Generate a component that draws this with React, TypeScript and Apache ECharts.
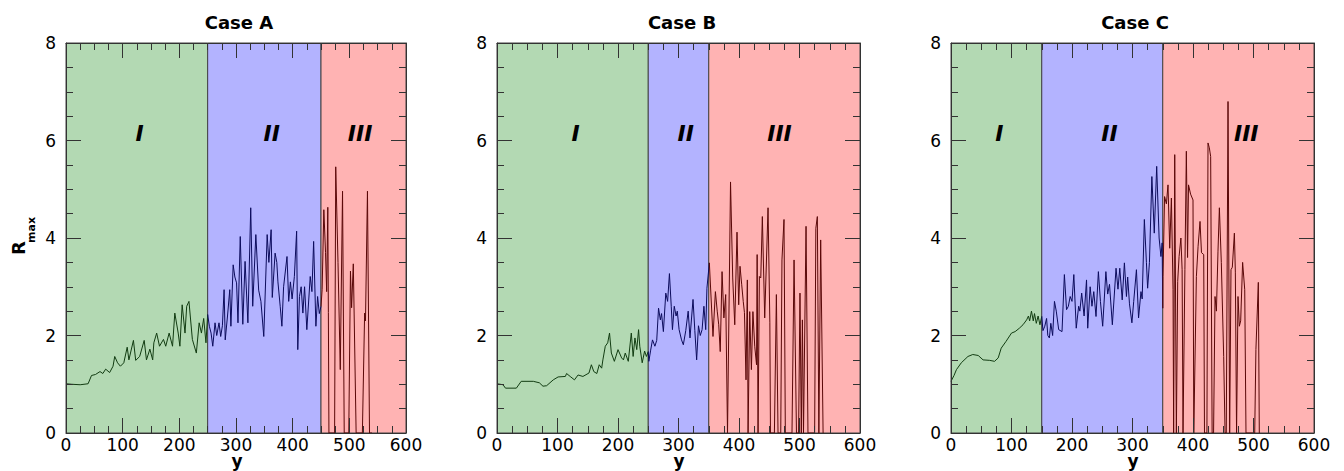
import React, { useEffect, useRef } from "react";
import * as echarts from "echarts";

const FONT = "'DejaVu Sans', sans-serif";

const panelTitles = ["Case A", "Case B", "Case C"];
const regionNames = ["I", "II", "III"];
const xTicks = { min: 0, max: 600, interval: 100 };
const yTicks = { min: 0, max: 8, interval: 2 };

// region boundaries per panel [start, b1, b2, end]
const boundsA = [0, 250, 450, 600];
const boundsB = [0, 250, 350, 600];
const boundsC = [0, 150, 350, 600];

// roman numeral label positions (data coords)
const labelXA = [130, 363, 519];
const labelXB = [130, 312, 467];
const labelXC = [80, 262, 488];
const labelY = 6.15;

// ---- Case A ----
const a1 = [[0,1.01],[10,1.0],[25,0.99],[39,1.01],[45,1.18],[52,1.2],[60,1.26],[65,1.22],[70,1.31],[77,1.24],[83,1.37],[86,1.57],[91,1.44],[96,1.37],[102,1.44],[108,1.76],[111,1.5],[119,1.9],[123,1.49],[130,1.57],[138,1.9],[142,1.5],[148,1.72],[153,1.5],[155,1.85],[160,2.05],[165,1.78],[172,1.92],[176,1.78],[182,2.05],[188,1.78],[192,2.46],[198,2.05],[201,1.78],[205,2.63],[210,2.05],[213,2.6],[217,2.7],[223,1.92],[230,1.64],[235,2.26],[239,2.05],[243,2.35],[247,1.85],[250,2.43]];
const a2 = [[250,2.43],[253,2.19],[256,2.05],[259,1.78],[263,2.26],[266,2.0],[270,2.26],[273,1.98],[276,2.2],[279,2.94],[281,1.91],[285,2.4],[289,2.94],[291,2.19],[295,3.45],[298,3.2],[301,3.08],[303.5,2.26],[307.5,4.03],[312,2.23],[316,3.52],[321,2.26],[326,4.62],[329.5,2.6],[335,4.07],[340,2.93],[344,2.7],[349,1.98],[355,4.07],[358,3.5],[362,4.17],[364,2.78],[369,3.69],[372,3.5],[374,3.1],[378,2.6],[381,2.19],[384,3.0],[390,3.62],[393,2.7],[396,3.1],[399,2.75],[403,3.21],[407,4.14],[409,1.71],[412,2.8],[415,3.0],[418,2.46],[421,3.0],[425,2.12],[431,3.21],[434,2.9],[437,3.93],[441,2.19],[444,2.8],[447,2.45],[450,2.6]];
const a3 = [[450,2.6],[452,2.94],[455,4.58],[458,3.7],[460,2.9],[462,4.63],[463,2.47],[464,0],[474,0],[476,5.46],[480,3.5],[484,1.3],[488,4.96],[491,0],[499,0],[502,3.32],[504,2.57],[507,3.47],[512,0],[523,0],[527,2.46],[528.5,2.3],[532,4.96],[535.6,0],[540,0]];

// ---- Case B ----
const b1 = [[0,1.01],[10,0.99],[14,0.92],[32,0.92],[40,1.06],[60,1.06],[70,1.03],[76,0.96],[82,0.97],[93,1.09],[101,1.15],[113,1.16],[115,1.22],[122,1.15],[128,1.09],[134,1.19],[142,1.16],[152,1.23],[156,1.4],[160,1.26],[165,1.22],[169,1.4],[173,1.33],[175,1.5],[179,1.78],[183,1.85],[186,2.05],[189,1.64],[194,1.47],[200,1.71],[206,1.54],[209,1.5],[212,1.64],[217,1.47],[222,2.05],[225,1.57],[228,1.95],[231,1.71],[234,2.12],[236,1.78],[240,1.44],[244,1.68],[247,1.57],[250,1.67]];
const b2 = [[250,1.67],[251,1.47],[254,1.7],[257,1.91],[261,1.78],[264,1.9],[267,2.56],[270,2.32],[272,2.45],[275,2.08],[279,2.87],[282,2.7],[285,3.27],[288,2.6],[290,2.12],[293,2.6],[296,2.4],[298,2.5],[301,2.12],[305,1.91],[308,1.81],[312,2.1],[316,2.5],[319,1.95],[324,2.74],[327,2.1],[330,1.5],[333,2.2],[336,2.0],[339,2.12],[342,2.6],[345,2.12],[347,2.97],[351,3.49]];
const b3 = [[351,3.49],[357,1.98],[361,2.9],[364,2.5],[366.5,2.22],[369,1.67],[372,3.31],[375,2.36],[378,2.84],[381,0],[386,5.15],[389.6,3.18],[393,2.22],[396.7,4.12],[399.5,2.63],[401.7,3.42],[404.5,3.04],[407,2.7],[409,2.47],[411.6,1.09],[413.8,3.14],[415,0],[417.7,2.49],[420.5,1.3],[423,2.49],[426,1.78],[429,1.4],[430,3.66],[431.5,0],[433.7,3.21],[436,3.18],[438.6,4.44],[442.5,2.36],[448,4.62],[451,2.26],[452,0],[458.5,0],[461.8,2.84],[464.5,0],[469,0],[471,3.55],[474.4,4.38],[476.6,0],[487.6,0],[491,3.55],[495,0],[498.5,0],[500.8,2.87],[503,0],[504.8,2.32],[506.6,0],[510.8,4.24],[514,0],[525,0],[527,4.2],[529.5,4.44],[532,0],[535,3.96],[539,0]];

// ---- Case C ----
const c1 = [[0,1.06],[5,1.18],[9,1.3],[17,1.44],[28,1.57],[36,1.61],[45,1.59],[53,1.5],[64,1.49],[72,1.47],[78,1.54],[83,1.74],[91,1.88],[100,2.05],[106,2.08],[113,2.15],[119,2.22],[125,2.32],[128,2.4],[130,2.3],[133,2.5],[136,2.3],[138,2.45],[141,2.25],[144,2.4],[147,2.22],[150,2.39]];
const c2 = [[150,2.39],[152,2.1],[155,2.19],[158,2.35],[160,2.0],[162.6,1.95],[165,2.25],[168,2.0],[171,2.7],[174,2.5],[178,2.12],[183.5,2.08],[187.4,3.25],[191,2.53],[194,2.6],[197,2.8],[200,2.7],[203,3.25],[207,2.15],[211,2.6],[213,2.5],[216,2.87],[220,2.4],[224,3.14],[226,2.15],[230,3.0],[233,2.6],[236,2.9],[239.7,2.39],[243.6,3.31],[247,2.7],[250.7,2.19],[256,3.31],[259,2.85],[262,3.05],[266.7,2.22],[272.8,3.38],[276,2.95],[279,3.38],[283,2.73],[286.6,3.49],[290,2.8],[292,3.2],[295,2.65],[299,2.26],[302,2.7],[306.5,3.35],[310,2.36],[314,2.9],[316,2.75],[319.6,4.38],[323,3.5],[325,2.97],[328,3.5],[332,5.26],[336,4.1],[340,5.47],[344,4.0],[347,3.62],[349,3.9],[350,2.56]];
const c3 = [[350,2.56],[350.4,3.21],[353,4.85],[356,4.7],[358.7,5.09],[361.5,3.79],[364.3,4.82],[367,2.94],[368,0],[369.8,5.71],[372.5,0],[374.7,3.11],[377,3.62],[380,4.0],[382,3.35],[383.5,0],[386.6,3.35],[389,5.78],[391,3.6],[392.6,5.09],[396,4.9],[400,4.78],[401.3,0],[405.6,3.21],[408.4,3.83],[411.6,4.34],[414,3.7],[417.7,3.66],[419,0],[423,0],[424.8,5.95],[427,5.85],[429.2,5.67],[431.6,0],[434,0],[436.4,2.8],[438.7,2.5],[441.3,3.73],[443.6,4.62],[446.8,3.5],[450.7,1.57],[453,0],[455,0],[457.9,6.8],[460.6,0],[462.8,3.35],[465,3.4],[468.4,4.1],[470,3.3],[472,0],[474.4,2.8],[476.6,2.19],[478.8,2.3],[482,3.5],[485.5,2.94],[487.6,0],[502,0],[504,1.71],[508,3.09],[509.6,0]];

const fills = ["#b3d9b3", "#b3b3ff", "#ffb3b3"];
const lineColors = ["#123c12", "#0c0c5c", "#5a0808"];

const panels = [
  { title: panelTitles[0], bounds: boundsA, labelX: labelXA, lines: [a1, a2, a3] },
  { title: panelTitles[1], bounds: boundsB, labelX: labelXB, lines: [b1, b2, b3] },
  { title: panelTitles[2], bounds: boundsC, labelX: labelXC, lines: [c1, c2, c3] },
];

const grids = [
  { left: 66, top: 43, width: 340, height: 390, outerBoundsMode: "none", containLabel: false },
  { left: 497, top: 43, width: 363, height: 390, outerBoundsMode: "none", containLabel: false },
  { left: 951, top: 43, width: 363, height: 390, outerBoundsMode: "none", containLabel: false },
];
const titleCenters = [239, 682, 1135];
const yNameCenters = [237, 679, 1133];

function buildOption() {
  const xAxis: any[] = [];
  const yAxis: any[] = [];
  const series: any[] = [];
  const graphic: any[] = [];
  const tickColor = "#333";
  panels.forEach((p, i) => {
    const common = {
      gridIndex: i,
      type: "value",
      splitLine: { show: false },
      axisLine: { show: true, onZero: false, lineStyle: { color: tickColor, width: 1 } },
      axisTick: { show: true, inside: true, length: 15, lineStyle: { color: tickColor, width: 1 } },
      minorTick: { show: true, splitNumber: 4, length: 7, lineStyle: { color: tickColor, width: 1 } },
      z: 5,
    };
    xAxis.push({
      ...common,
      position: "bottom",
      ...xTicks,
      axisLabel: { fontFamily: FONT, fontSize: 17, lineHeight: 15, color: "#000", margin: 4 },
    });
    xAxis.push({ ...common, position: "top", ...xTicks, axisLabel: { show: false } });
    yAxis.push({
      ...common,
      position: "left",
      ...yTicks,
      axisLabel: { fontFamily: FONT, fontSize: 17, color: "#000", margin: 10 },
    });
    yAxis.push({ ...common, position: "right", ...yTicks, axisLabel: { show: false } });

    // background regions + roman numerals
    series.push({
      type: "line",
      xAxisIndex: 2 * i,
      yAxisIndex: 2 * i,
      data: [],
      z: 1,
      silent: true,
      markArea: {
        silent: true,
        data: [0, 1, 2].map((k) => [
          { xAxis: p.bounds[k], itemStyle: { color: fills[k], borderColor: "#444", borderWidth: 1 } },
          { xAxis: p.bounds[k + 1] },
        ]),
      },
      markPoint: {
        silent: true,
        symbol: "circle",
        symbolSize: 0,
        data: p.labelX.map((lx, k) => ({
          coord: [lx, labelY],
          label: {
            show: true,
            position: "inside",
            formatter: regionNames[k],
            fontFamily: FONT,
            fontWeight: "bold",
            fontStyle: "italic",
            fontSize: 22,
            color: "#000",
          },
        })),
      },
    });
    p.lines.forEach((d, k) => {
      series.push({
        type: "line",
        xAxisIndex: 2 * i,
        yAxisIndex: 2 * i,
        data: d,
        showSymbol: false,
        symbol: "none",
        z: 3,
        lineStyle: { color: lineColors[k], width: 1 },
      });
    });
    graphic.push({
      type: "text",
      x: titleCenters[i],
      y: 22,
      style: {
        text: p.title,
        fontFamily: FONT,
        fontWeight: "bold",
        fontSize: 18,
        fill: "#000",
        textAlign: "center",
        textVerticalAlign: "middle",
      },
    });
    graphic.push({
      type: "text",
      x: yNameCenters[i],
      y: 461,
      style: {
        text: "y",
        fontFamily: FONT,
        fontWeight: "bold",
        fontSize: 17,
        lineHeight: 13,
        fill: "#000",
        textAlign: "center",
        textVerticalAlign: "middle",
      },
    });
  });
  graphic.push({
    type: "text",
    x: 18,
    y: 248,
    rotation: Math.PI / 2,
    style: { text: "R", fontFamily: FONT, fontWeight: "bold", fontSize: 18, fill: "#000", textAlign: "center", textVerticalAlign: "middle" },
  });
  graphic.push({
    type: "text",
    x: 31,
    y: 230,
    rotation: Math.PI / 2,
    style: { text: "max", fontFamily: FONT, fontWeight: "bold", fontSize: 11, fill: "#000", textAlign: "center", textVerticalAlign: "middle" },
  });
  return {
    animation: false,
    backgroundColor: "#ffffff",
    grid: grids,
    xAxis,
    yAxis,
    series,
    graphic,
  };
}

export default function App() {
  const ref = useRef<HTMLDivElement>(null);
  useEffect(() => {
    if (!ref.current) return;
    const chart = echarts.init(ref.current, null, { renderer: "svg" });
    chart.setOption(buildOption() as any);
    return () => chart.dispose();
  }, []);
  return (
    <div
      ref={ref}
      style={{ position: "fixed", left: 0, top: 0, width: 1344, height: 471, background: "#fff" }}
    />
  );
}
